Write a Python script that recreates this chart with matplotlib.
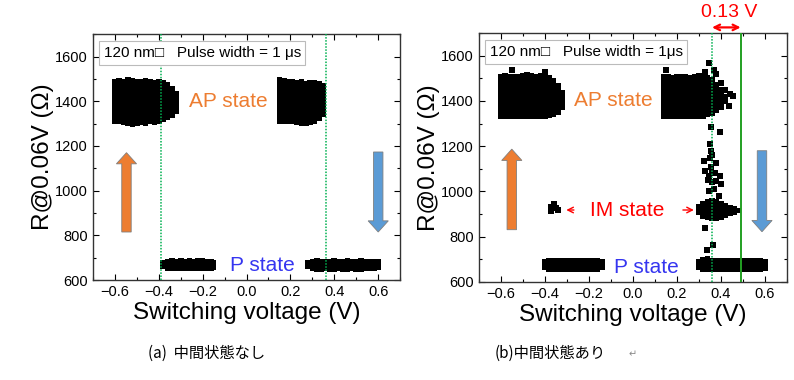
import matplotlib
matplotlib.use("Agg")
import matplotlib.pyplot as plt
import numpy as np
from matplotlib.ticker import MultipleLocator

plt.rcParams['font.family'] = ['Liberation Sans', 'DejaVu Sans']

# ---- data ----
# (a) no intermediate state : each cluster = voltage columns with R range (low, high)
a_ap1_v = [-0.60, -0.58, -0.56, -0.54, -0.52, -0.50, -0.48, -0.46, -0.44, -0.42, -0.40, -0.38, -0.36, -0.34, -0.32]
a_ap1_lo = [1300, 1300, 1295, 1290, 1285, 1288, 1295, 1290, 1298, 1295, 1300, 1305, 1315, 1325, 1345]
a_ap1_hi = [1500, 1505, 1500, 1510, 1505, 1500, 1498, 1505, 1500, 1495, 1500, 1495, 1485, 1470, 1445]

a_ap2_v = [0.15, 0.17, 0.19, 0.21, 0.23, 0.25, 0.27, 0.29, 0.31, 0.33, 0.35]
a_ap2_lo = [1300, 1300, 1298, 1300, 1295, 1290, 1290, 1295, 1300, 1310, 1330]
a_ap2_hi = [1510, 1505, 1500, 1500, 1495, 1500, 1492, 1495, 1495, 1490, 1480]

a_p1_v = [-0.38, -0.36, -0.34, -0.32, -0.30, -0.28, -0.26, -0.24, -0.22, -0.20, -0.18, -0.16, -0.15]
a_p1_lo = [650, 642, 640, 640, 640, 640, 640, 640, 640, 640, 640, 640, 645]
a_p1_hi = [688, 695, 697, 696, 697, 696, 697, 696, 697, 697, 696, 695, 690]

a_p2_v = [0.28, 0.30, 0.32, 0.34, 0.36, 0.38, 0.40, 0.42, 0.44, 0.46, 0.48, 0.50, 0.52, 0.54, 0.56, 0.58, 0.60]
a_p2_lo = [648, 640, 638, 638, 640, 638, 638, 640, 638, 638, 640, 638, 638, 640, 640, 640, 643]
a_p2_hi = [688, 696, 697, 695, 696, 695, 697, 695, 696, 697, 695, 696, 697, 695, 696, 695, 692]

# (b) with intermediate state
b_ap1_v = [-0.60, -0.58, -0.56, -0.54, -0.52, -0.50, -0.48, -0.46, -0.44, -0.42, -0.40, -0.38, -0.36, -0.34, -0.32]
b_ap1_lo = [1320, 1320, 1322, 1320, 1318, 1320, 1322, 1320, 1318, 1320, 1322, 1325, 1330, 1340, 1360]
b_ap1_hi = [1520, 1522, 1520, 1518, 1520, 1522, 1528, 1522, 1520, 1525, 1520, 1515, 1500, 1480, 1450]

b_ap2_v = [0.14, 0.16, 0.18, 0.20, 0.22, 0.24, 0.26, 0.28, 0.30, 0.32, 0.34, 0.36, 0.38, 0.40, 0.42]
b_ap2_lo = [1320, 1318, 1320, 1322, 1318, 1320, 1320, 1318, 1320, 1322, 1330, 1335, 1345, 1360, 1385]
b_ap2_hi = [1520, 1518, 1515, 1518, 1520, 1518, 1515, 1520, 1525, 1520, 1515, 1505, 1485, 1460, 1430]

b_im_v = [0.30, 0.32, 0.34, 0.36, 0.38, 0.40, 0.42, 0.44, 0.46, 0.48]
b_im_lo = [895, 880, 872, 868, 870, 875, 882, 890, 898, 905]
b_im_hi = [945, 958, 965, 970, 965, 958, 950, 942, 935, 925]

b_p1_v = [-0.40, -0.38, -0.36, -0.34, -0.32, -0.30, -0.28, -0.26, -0.24, -0.22, -0.20, -0.18, -0.16, -0.14]
b_p1_lo = [652, 645, 642, 642, 642, 642, 642, 642, 642, 642, 642, 642, 645, 652]
b_p1_hi = [700, 707, 708, 707, 708, 708, 707, 708, 707, 708, 707, 707, 705, 700]

b_p2_v = [0.30, 0.32, 0.34, 0.36, 0.38, 0.40, 0.42, 0.44, 0.46, 0.48, 0.50, 0.52, 0.54, 0.56, 0.58, 0.60]
b_p2_lo = [652, 645, 642, 642, 642, 642, 642, 642, 642, 642, 642, 642, 642, 642, 642, 648]
b_p2_hi = [700, 712, 715, 708, 707, 707, 708, 707, 707, 708, 707, 707, 707, 707, 705, 702]

# isolated points in (b)
b_pts_v = [0.347, 0.355, 0.395, 0.350, 0.355, 0.360, 0.350, 0.325, 0.380, 0.330, 0.345, 0.360, 0.375,
           0.395, 0.400, 0.340, 0.360, 0.380, 0.390, 0.329, 0.338, 0.365, 0.455, 0.437, 0.345, 0.355,
           0.370, -0.370, -0.360, -0.350, -0.340, -0.370, 0.330, 0.370, 0.380, 0.400, 0.420, 0.440,
           0.150, -0.400, -0.550]
b_pts_r = [1569, 1286, 1264, 1210, 1180, 1160, 1150, 1133, 1124, 1090, 1070, 1080, 1080,
           1070, 1035, 1050, 1040, 1045, 980, 840, 742, 764, 1424, 1378, 1000, 1110,
           1010, 930, 945, 925, 920, 915, 1530, 1535, 1520, 1480, 1450, 1430,
           1535, 1530, 1535]

xticks = [-0.6, -0.4, -0.2, 0.0, 0.2, 0.4, 0.6]
yticks = [600, 800, 1000, 1200, 1400, 1600]

orange = '#ED7D31'
blue = '#5B9BD5'
green = '#00B050'

fig = plt.figure(figsize=(7.94, 3.8), dpi=100)
ax_a = fig.add_axes([0.117, 0.263, 0.387, 0.647])
ax_b = fig.add_axes([0.603, 0.258, 0.388, 0.655])


def cluster(ax, v, lo, hi):
    lo = np.array(lo)
    hi = np.array(hi)
    ax.bar(v, hi - lo, bottom=lo, width=0.026, color='k', linewidth=0, zorder=3)


def setup(ax):
    ax.set_xlim(-0.7, 0.7)
    ax.set_ylim(600, 1700)
    ax.set_xticks(xticks)
    ax.set_xticklabels(['\u22120.6', '\u22120.4', '\u22120.2', '0.0', '0.2', '0.4', '0.6'])
    ax.set_yticks(yticks)
    ax.xaxis.set_minor_locator(MultipleLocator(0.1))
    ax.yaxis.set_minor_locator(MultipleLocator(100))
    ax.tick_params(which='both', direction='in', top=True, right=True, labelsize=10.5, width=0.8)
    ax.tick_params(which='major', length=4.5)
    ax.tick_params(which='minor', length=2.5)
    for s in ax.spines.values():
        s.set_linewidth(1.0)
        s.set_color('#333333')
    ax.set_xlabel('Switching voltage (V)', fontsize=17.5, labelpad=2)
    ax.set_ylabel('R@0.06V (\u03a9)', fontsize=17.5, labelpad=1)


def fat_arrow(ax, x, y0, y1, color):
    ax.arrow(x, y0, 0, y1 - y0, width=0.043, head_width=0.092, head_length=50,
             length_includes_head=True, fc=color, ec='#7f7f7f', lw=0.6, zorder=4)


def info_box(ax, s):
    ax.text(0.035, 0.952, s, transform=ax.transAxes, fontsize=11,
            ha='left', va='top', zorder=6,
            bbox=dict(boxstyle='square,pad=0.3', fc='white', ec='#bbbbbb', lw=0.8))


# ---- (a) ----
ax = ax_a
setup(ax)
cluster(ax, a_ap1_v, a_ap1_lo, a_ap1_hi)
cluster(ax, a_ap2_v, a_ap2_lo, a_ap2_hi)
cluster(ax, a_p1_v, a_p1_lo, a_p1_hi)
cluster(ax, a_p2_v, a_p2_lo, a_p2_hi)
ax.axvline(-0.39, color=green, ls=(0, (1, 1)), lw=1.1, zorder=5)
ax.axvline(0.36, color=green, ls=(0, (1, 1)), lw=1.1, zorder=5)
fat_arrow(ax, -0.547, 815, 1170, orange)
fat_arrow(ax, 0.6, 1173, 815, blue)
ax.text(-0.085, 1400, 'AP state', color=orange, fontsize=15, ha='center', va='center')
ax.text(0.07, 663, 'P state', color='#3535F0', fontsize=15, ha='center', va='center')
info_box(ax, '120 nm\u25a1   Pulse width = 1 \u03bcs')

# ---- (b) ----
ax = ax_b
setup(ax)
cluster(ax, b_ap1_v, b_ap1_lo, b_ap1_hi)
cluster(ax, b_ap2_v, b_ap2_lo, b_ap2_hi)
cluster(ax, b_im_v, b_im_lo, b_im_hi)
cluster(ax, b_p1_v, b_p1_lo, b_p1_hi)
cluster(ax, b_p2_v, b_p2_lo, b_p2_hi)
ax.scatter(b_pts_v, b_pts_r, marker='s', s=14, color='k', linewidths=0, zorder=3)
ax.axvline(0.36, color=green, ls=(0, (1, 1)), lw=1.1, zorder=5)
ax.axvline(0.49, color='#22A022', ls='-', lw=1.4, zorder=5)
fat_arrow(ax, -0.55, 831, 1187, orange)
fat_arrow(ax, 0.587, 1180, 822, blue)
ax.text(-0.09, 1400, 'AP state', color=orange, fontsize=15, ha='center', va='center')
ax.text(0.06, 663, 'P state', color='#3535F0', fontsize=15, ha='center', va='center')
ax.text(-0.027, 918, 'IM state', color='red', fontsize=15, ha='center', va='center')
ax.annotate('', xy=(-0.315, 918), xytext=(-0.255, 918),
            arrowprops=dict(arrowstyle='->', color='red', lw=1.0))
ax.annotate('', xy=(0.29, 918), xytext=(0.215, 918),
            arrowprops=dict(arrowstyle='->', color='red', lw=1.0))
ax.annotate('', xy=(0.36, 1725), xytext=(0.49, 1725), annotation_clip=False,
            arrowprops=dict(arrowstyle='<->', color='red', lw=1.6, shrinkA=0, shrinkB=0))
ax.text(0.437, 1790, '0.13 V', color='red', fontsize=14, ha='center', va='center', clip_on=False)
info_box(ax, '120 nm\u25a1   Pulse width = 1\u03bcs')

# captions
cap_font = ['Noto Sans CJK JP', 'DejaVu Sans']
fig.text(0.186, 0.071, '(a)  中間状態なし', fontsize=11, family=cap_font, va='center')
fig.text(0.623, 0.071, '(b)中間状態あり', fontsize=11, family=cap_font, va='center')
fig.text(0.792, 0.068, '\u21b5', fontsize=7, color='#888888', family=cap_font, va='center')

fig.savefig('out.png', dpi=100)
